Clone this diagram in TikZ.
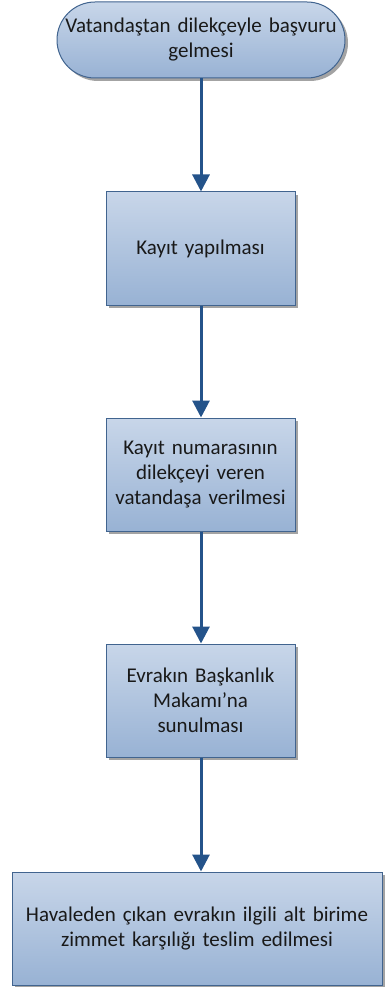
\documentclass[tikz,border=0pt]{standalone}
\usepackage{fontspec}
\setmainfont{Carlito}
\usepackage{tikz}
\usetikzlibrary{arrows.meta,shadows}
\definecolor{boxtop}{HTML}{C8D6E9}
\definecolor{boxbot}{HTML}{98B2D4}
\definecolor{boxline}{HTML}{41648F}
\definecolor{flowline}{HTML}{24538A}

\begin{document}
\begin{tikzpicture}[x=1pt,y=-1pt,
  box/.style={draw=boxline,line width=1pt,top color=boxtop,bottom color=boxbot,
    drop shadow={shadow xshift=3pt,shadow yshift=-3pt,fill=black!45,opacity=0.8},
    align=center,font=\fontsize{21}{25}\selectfont,text=black!90,inner sep=1pt},
  terminal/.style={box,rounded corners=38pt},
  flow/.style={-{Triangle[length=17pt,width=17pt]},line width=3pt,draw=flowline,color=flowline}]
\useasboundingbox (0,0) rectangle (385,987);
\node[terminal,minimum width=288pt,minimum height=76pt,text width=284pt] (start) at (201,40) {Vatandaştan dilekçeyle başvuru\\gelmesi};
\node[box,minimum width=189pt,minimum height=113pt,text width=186pt] (kayit) at (200.5,248.5) {Kayıt yapılması};
\node[box,minimum width=189pt,minimum height=113pt,text width=186pt] (numara) at (200.5,474.5) {Kayıt numarasının\\dilekçeyi veren\\vatandaşa verilmesi};
\node[box,minimum width=189pt,minimum height=113pt,text width=186pt] (makam) at (200.5,700.5) {Evrakın Başkanlık\\Makamı’na\\sunulması};
\node[box,minimum width=370pt,minimum height=113pt,text width=366pt] (teslim) at (197,928.5) {Havaleden çıkan evrakın ilgili alt birime\\zimmet karşılığı teslim edilmesi};
\draw[flow] (start.south -| 201,0) -- (kayit.north -| 201,0);
\draw[flow] (kayit.south -| 201,0) -- (numara.north -| 201,0);
\draw[flow] (numara.south -| 201,0) -- (makam.north -| 201,0);
\draw[flow] (makam.south -| 201,0) -- (teslim.north -| 201,0);
\end{tikzpicture}
\end{document}
